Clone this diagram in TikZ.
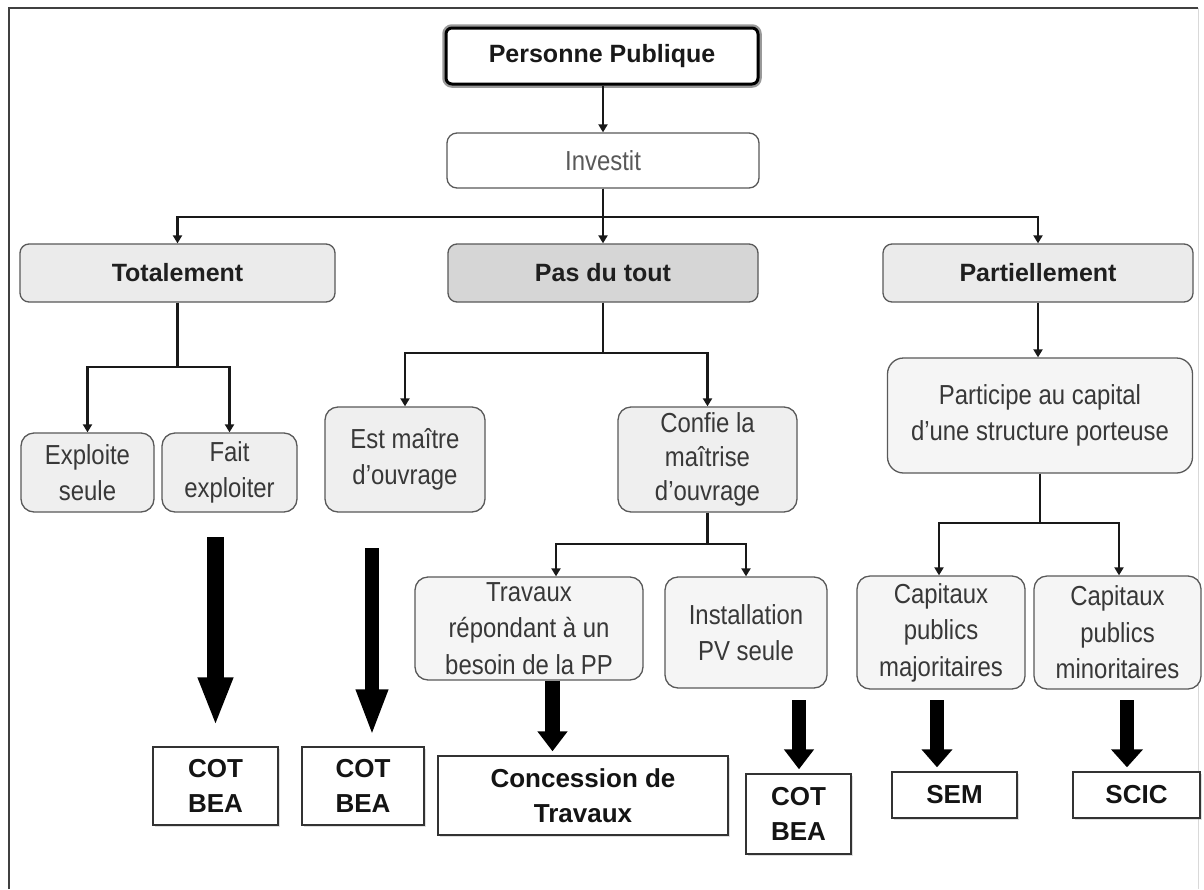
\documentclass[tikz,border=0pt]{standalone}
\usepackage{fontspec}
\setmainfont{Liberation Sans}
\newfontfamily\condfont[FakeStretch=0.87]{Liberation Sans}
\usetikzlibrary{arrows.meta,calc,shadows}
\definecolor{lightfill}{HTML}{EBEBEB}
\definecolor{darkfill}{HTML}{D6D6D6}
\definecolor{midfill}{HTML}{EFEFEF}
\definecolor{palefill}{HTML}{F5F5F5}
\begin{document}
\begin{tikzpicture}[x=1pt,y=-1pt,
  every node/.style={inner sep=0pt, align=center},
  rbox/.style={draw=black!65, line width=1.3pt, rounded corners=13pt, text=black!78,
    font=\condfont\fontsize{27.5}{36.5}\selectfont},
  topbox/.style={draw=black!65, line width=1.3pt, rounded corners=9pt, text=black!88,
    font=\fontsize{25}{30}\selectfont\bfseries},
  endbox/.style={draw=black!80, line width=1.4pt, fill=white, text=black!92,
    font=\fontsize{26}{35}\selectfont\bfseries,
    drop shadow={shadow xshift=2pt, shadow yshift=-2pt, opacity=0.25}},
  conn/.style={draw=black!90, line width=2.2pt, -{Triangle[width=9pt,length=8pt]}},
  plain/.style={draw=black!90, line width=2.2pt},
  bigarrow/.style={draw=black, -{Triangle[width=#1]}}
]
\useasboundingbox (0,0) rectangle (1204,889);
\fill[white] (0,0) rectangle (1204,889);
% frame
\draw[black!75, line width=2pt] (9,889) -- (9,8) -- (1198,8);
\draw[black!15, line width=1pt] (1198,8) -- (1198,889);

% nodes
\node[draw=black, line width=3pt, rounded corners=6pt, fill=white,
  preaction={draw=black!40, line width=7.5pt},
  minimum width=312pt, minimum height=56pt, text=black!90,
  font=\fontsize{25}{30}\selectfont\bfseries] (pp) at (602,56) {Personne Publique};
\node[rbox, fill=white, text=black!65, rounded corners=10pt, minimum width=312pt, minimum height=55pt] (inv) at (603,160.5) {Investit};

\node[topbox, fill=lightfill, minimum width=315pt, minimum height=58pt] (tot) at (177.5,273) {Totalement};
\node[topbox, fill=darkfill, minimum width=310pt, minimum height=58pt] (pdt) at (603,273) {Pas du tout};
\node[topbox, fill=lightfill, minimum width=310pt, minimum height=58pt] (part) at (1038,273) {Partiellement};

\node[rbox, fill=midfill, minimum width=133pt, minimum height=79pt] (es) at (87.5,472.5) {Exploite\\seule};
\node[rbox, fill=midfill, minimum width=135pt, minimum height=79pt] (fe) at (229.5,472.5) {Fait\\exploiter};
\node[rbox, fill=midfill, minimum width=160pt, minimum height=105pt] (emo) at (405,459.5) {Est ma\^{\i}tre\\d’ouvrage};
\node[rbox, fill=midfill, minimum width=179pt, minimum height=105pt,
  font=\condfont\fontsize{27.5}{34}\selectfont] (conf) at (707.5,459.5) {Confie la\\ma\^{\i}trise\\d’ouvrage};

\node[rbox, fill=palefill, minimum width=228pt, minimum height=103pt] (trav) at (529,628.5) {Travaux\\répondant à un\\besoin de la PP};
\node[rbox, fill=palefill, minimum width=162pt, minimum height=111pt] (ipv) at (746,632.5) {Installation\\PV seule};

\node[rbox, fill=palefill, rounded corners=16pt, minimum width=305pt, minimum height=115pt] (par2) at (1040,415.5) {Participe au capital\\d’une structure porteuse};
\node[rbox, fill=palefill, minimum width=168pt, minimum height=113pt] (cmaj) at (941,632.5) {Capitaux\\publics\\majoritaires};
\node[rbox, fill=palefill, minimum width=167pt, minimum height=113pt] (cmin) at (1117.5,632.5) {Capitaux\\publics\\minoritaires};

\node[endbox, minimum width=125pt, minimum height=78pt] (cot1) at (215.5,786) {COT\\BEA};
\node[endbox, minimum width=122pt, minimum height=78pt] (cot2) at (363,786) {COT\\BEA};
\node[endbox, minimum width=290pt, minimum height=79pt] (conc) at (583,795.5) {Concession de\\Travaux};
\node[endbox, minimum width=105pt, minimum height=80pt] (cot3) at (798.5,814) {COT\\BEA};
\node[endbox, minimum width=125pt, minimum height=46pt] (sem) at (954.5,795) {SEM};
\node[endbox, minimum width=127pt, minimum height=46pt] (scic) at (1136.5,795) {SCIC};

% small connectors
\draw[conn] (pp.south -| inv.north) -- (inv.north);
\draw[conn] (inv.south) -- ++(0,28) -| (tot.north);
\draw[conn] (inv.south) -- (pdt.north);
\draw[conn] (inv.south) -- ++(0,28) -| (part.north);

\draw[conn] (tot.south) -- ++(0,64) -| (es.north);
\draw[conn] (tot.south) -- ++(0,64) -| (fe.north);

\draw[conn] (pdt.south) -- ++(0,50) -| (emo.north);
\draw[conn] (pdt.south) -- ++(0,50) -| (conf.north);

\draw[conn] (conf.south) -- ++(0,31) -| ([xshift=27pt]trav.north);
\draw[conn] (conf.south) -- ++(0,31) -| (ipv.north);

\draw[conn] (part.south) -- (part.south |- par2.north);
\draw[conn] (par2.south) -- ++(0,49) -| ([xshift=-2pt]cmaj.north);
\draw[conn] (par2.south) -- ++(0,49) -| ([xshift=1.5pt]cmin.north);

% big arrows
\coordinate (a1) at (215.5,537);
\coordinate (a2) at (372,548);
\coordinate (a3) at ([xshift=23.5pt]trav.south);
\coordinate (a4) at (799,700);
\coordinate (a5) at (937,700);
\coordinate (a6) at (1127,700);
\draw[black, line width=17pt, -{Triangle[width=32pt,length=49pt]}, shorten >=20pt] (a1) -- (a1 |- cot1.north);
\draw[black, line width=14pt, -{Triangle[width=29pt,length=47pt]}, shorten >=10pt] (a2) -- (a2 |- cot2.north);
\draw[black, line width=15pt, -{Triangle[width=29pt,length=20pt]}, shorten >=4pt] (a3) -- (a3 |- conc.north);
\draw[black, line width=14pt, -{Triangle[width=29pt,length=20pt]}, shorten >=4pt] (a4) -- (a4 |- cot3.north);
\draw[black, line width=14pt, -{Triangle[width=30pt,length=18pt]}, shorten >=4pt] (a5) -- (a5 |- sem.north);
\draw[black, line width=14pt, -{Triangle[width=31pt,length=18pt]}, shorten >=4pt] (a6) -- (a6 |- scic.north);
\end{tikzpicture}
\end{document}
